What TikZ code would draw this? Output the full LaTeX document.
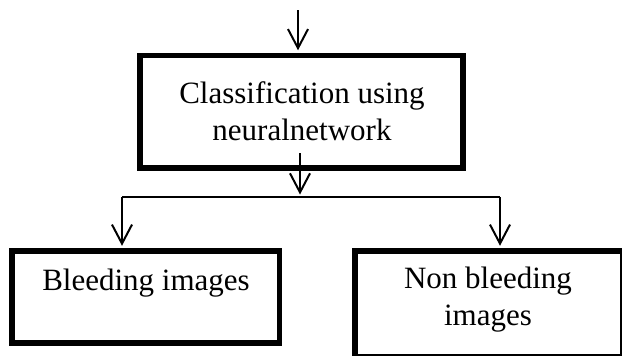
\documentclass[tikz,border=0pt]{standalone}
\usepackage{fontspec}
\setmainfont{Liberation Serif}
\usetikzlibrary{arrows.meta}
\begin{document}
\begin{tikzpicture}[x=1pt,y=-1pt,
  boxstyle/.style={draw=black, line width=5.5pt, line join=miter, inner sep=0pt, fill=none},
  txt/.style={font=\fontsize{31}{37}\selectfont, align=center, inner sep=0pt},
  conn/.style={draw=black, line width=2pt},
  arr/.style={conn, -{Straight Barb[length=19pt,width=20pt]}}]
\useasboundingbox (0,0) rectangle (622,356);
\clip (0,0) rectangle (622,356);
% boxes
\node[boxstyle, minimum width=323pt, minimum height=112.5pt] (cls) at (301.5,111.75) {};
\node[boxstyle, minimum width=267.5pt, minimum height=92pt] (bl) at (145.75,297) {};
\node[boxstyle, minimum width=267.5pt, minimum height=106pt] (nbl) at (488.75,304) {};
% texts
\node[txt] (clst) at (302,111.25) {Classification using\\neuralnetwork};
\node[txt] (blt) at (146,282.75) {Bleeding images};
\node[txt] (nblt) at (488,299.25) {Non bleeding\\images};
% connectors
\coordinate (in) at (298,10);
\coordinate (s) at (300,153);
\coordinate (j) at (300,197);
\coordinate (jl) at (122,197);
\coordinate (jr) at (500,197);
\draw[arr, shorten >=2.5pt] (in) -- (in |- cls.north);
\draw[arr] (s) -- ([yshift=2.5pt]j);
\draw[conn] (jl) -- (jr);
\draw[arr, shorten >=2.5pt] (jl) -- (jl |- bl.north);
\draw[arr, shorten >=2.5pt] (jr) -- (jr |- nbl.north);
\end{tikzpicture}
\end{document}
